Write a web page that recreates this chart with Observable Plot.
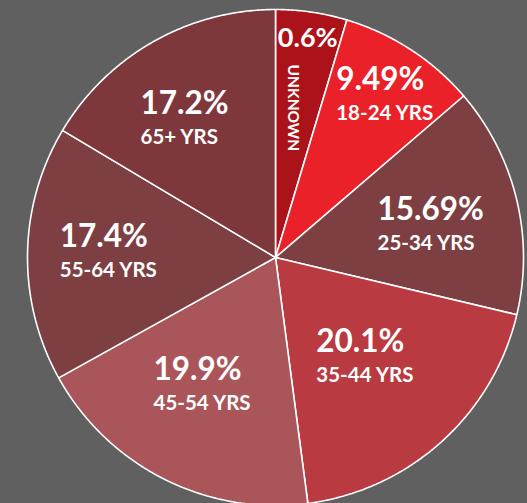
<!DOCTYPE html>
<html><head><meta charset="utf-8">
<script src="https://cdn.jsdelivr.net/npm/d3@7"></script>
<script src="https://cdn.jsdelivr.net/npm/@observablehq/plot@0.6"></script>
<style>
html,body{margin:0;padding:0;background:#606060;overflow:hidden;}
#chart svg{display:block;}
</style></head><body><div id="chart"></div>
<script>
// ---- data ----
const categories = ["UNKNOWN", "18-24 YRS", "25-34 YRS", "35-44 YRS", "45-54 YRS", "55-64 YRS", "65+ YRS"];
const percentLabels = ["0.6%", "9.49%", "15.69%", "20.1%", "19.9%", "17.4%", "17.2%"];
// slice sizes as drawn in the original (the tiny "unknown" share is drawn enlarged)
const sliceValues = [4.86, 9.49, 15.69, 20.1, 19.9, 17.4, 17.2];
const sliceColors = ["#ab1219", "#ea2129", "#7d3f42", "#b93a41", "#aa555a", "#7d3f42", "#7e383c"];

// ---- layout ----
const W = 527, H = 503;
const xRange = [27, 523], yRange = [505, 9];
const Rpx = (xRange[1] - xRange[0]) / 2;
const labelDist = [0.895, 0.794, 0.64, 0.536, 0.59, 0.673, 0.67];   // fraction of radius
const labelTurn = [0, 0.8, 1.6, -0.4, 3.2, 1.5, -3.6];               // degrees off the slice middle
const unknownTextDist = 0.61;
const font = "Lato, 'Open Sans', sans-serif";
const bigSize = 31.5, smallBig = 27, subSize = 20.5, tinySize = 15.5;

const arcs = d3.pie().sort(null).value(d => d).startAngle(0).endAngle(2 * Math.PI)(sliceValues);

function slicePolygon(a) {
  const pts = [{x: 0, y: 0}];
  const n = Math.max(2, Math.ceil((a.endAngle - a.startAngle) / (Math.PI / 360)));
  for (let j = 0; j <= n; j++) {
    const t = a.startAngle + (a.endAngle - a.startAngle) * j / n;
    pts.push({x: Math.sin(t), y: Math.cos(t)});
  }
  pts.push({x: 0, y: 0});
  return pts;
}

const ctx = document.createElement("canvas").getContext("2d");
function textW(t, size) { ctx.font = `bold ${size}px ${font}`; return ctx.measureText(t).width; }

const pctRows = [], subRows = [];
arcs.forEach((a, i) => {
  if (i === 0) return;
  const mid = (a.startAngle + a.endAngle) / 2 + labelTurn[i] * Math.PI / 180;
  const k = labelDist[i];
  const cx = k * Math.sin(mid), cy = k * Math.cos(mid);
  const w = Math.max(textW(percentLabels[i], bigSize), textW(categories[i], subSize));
  const left = cx - (w / 2) / Rpx;
  pctRows.push({x: left, y: cy, text: percentLabels[i]});
  subRows.push({x: left, y: cy, text: categories[i]});
});
const a0 = arcs[0];
const mid0 = (a0.startAngle + a0.endAngle) / 2;
const unkPct = [{x: labelDist[0] * Math.sin(mid0), y: labelDist[0] * Math.cos(mid0), text: percentLabels[0]}];
const unkName = [{x: unknownTextDist * Math.sin(mid0) - 0.02, y: unknownTextDist * Math.cos(mid0), text: categories[0]}];

const marks = arcs.map((a, i) => Plot.line(slicePolygon(a), {
  x: "x", y: "y", fill: sliceColors[i], stroke: "white", strokeWidth: 1.6,
  strokeLinejoin: "miter", strokeLinecap: "butt", curve: "linear"
}));

marks.push(
  Plot.text(pctRows, {x: "x", y: "y", text: "text", fill: "white", fontSize: bigSize, fontWeight: "bold",
    fontFamily: font, textAnchor: "start", lineAnchor: "bottom", dy: -4}),
  Plot.text(subRows, {x: "x", y: "y", text: "text", fill: "white", fontSize: subSize, fontWeight: "bold",
    fontFamily: font, textAnchor: "start", lineAnchor: "bottom", dy: 26}),
  Plot.text(unkPct, {x: "x", y: "y", text: "text", fill: "white", fontSize: smallBig, fontWeight: "bold",
    fontFamily: font, textAnchor: "middle", lineAnchor: "middle"}),
  Plot.text(unkName, {x: "x", y: "y", text: "text", fill: "white", fontSize: tinySize, fontWeight: "bold",
    fontFamily: font, textAnchor: "middle", lineAnchor: "middle", rotate: 90, letterSpacing: "2px"})
);

const chart = Plot.plot({
  width: W, height: H,
  margin: 0,
  style: {background: "#606060", overflow: "hidden"},
  x: {domain: [-1, 1], range: xRange, axis: null},
  y: {domain: [-1, 1], range: yRange, axis: null},
  marks
});
document.getElementById("chart").appendChild(chart);
</script>
</body></html>
